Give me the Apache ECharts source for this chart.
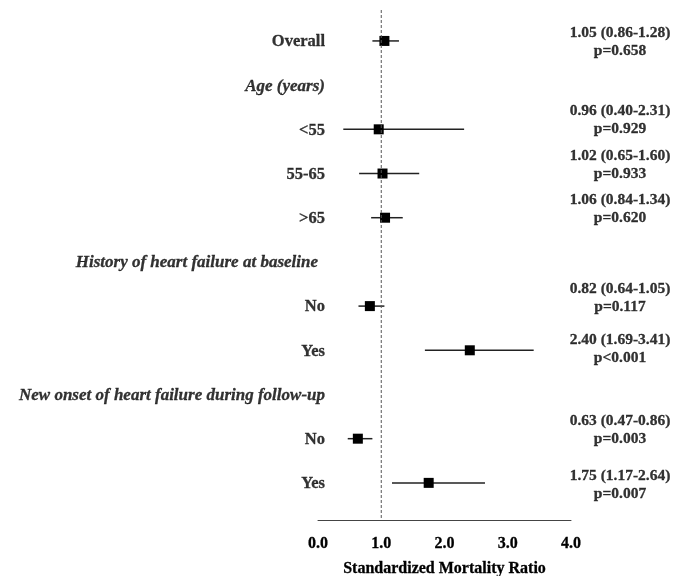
<!DOCTYPE html>
<html><head><meta charset="utf-8">
<script src="https://cdn.jsdelivr.net/npm/echarts@6/dist/echarts.min.js"></script>
<style>html,body{margin:0;padding:0;background:#fff}#c{width:678px;height:576px}</style>
</head><body><div id="c"></div>
<script>
// Data
var rowLabels = ['Overall','Age (years)','<55','55-65','>65','History of heart failure at baseline','No','Yes','New onset of heart failure during follow-up','No','Yes'];
var isHeader = [false,true,false,false,false,true,false,false,true,false,false];
var estimate = [1.05,null,0.96,1.02,1.06,null,0.82,2.40,null,0.63,1.75];
var lower    = [0.86,null,0.40,0.65,0.84,null,0.64,1.69,null,0.47,1.17];
var upper    = [1.28,null,2.31,1.60,1.34,null,1.05,3.41,null,0.86,2.64];
var pText    = ['p=0.658',null,'p=0.929','p=0.933','p=0.620',null,'p=0.117','p<0.001',null,'p=0.003','p=0.007'];
var xTicks = [0,1,2,3,4];
// style: vertical shift of right-hand text per row (px)
var textDy = [1.5,0,-9,-8.5,-8.5,0,-8.5,-1.5,0,-8.5,2];
var labelDx = [7,7,7,7,7,0,7,7,7,7,7];

var FONT = '"Liberation Serif", serif';
var chart = echarts.init(document.getElementById('c'), null, {renderer:'canvas'});

var ciData = [], labelData = [], rightData = [];
rowLabels.forEach(function(l, i){
  labelData.push({value:[0,i], label:{formatter:l, position:[labelDx[i],1],
    fontStyle: isHeader[i]?'italic':'normal', fontSize: isHeader[i]?17:16.5}});
  if (estimate[i] != null) {
    ciData.push([estimate[i], lower[i], upper[i], i]);
    var txt = estimate[i].toFixed(2)+' ('+lower[i].toFixed(2)+'-'+upper[i].toFixed(2)+')\n'+pText[i];
    rightData.push({value:[4,i], label:{formatter:txt, position:[49, textDy[i]]}});
  }
});

var option = {
  animation:false,
  backgroundColor:'#fff',
  grid:{left:318, right:107, top:10, bottom:56, containLabel:false, outerBoundsMode:'none'},
  xAxis:{type:'value', min:0, max:4, interval:1,
    axisLine:{show:true, onZero:false, lineStyle:{color:'#444', width:1}},
    axisTick:{show:false}, splitLine:{show:false},
    axisLabel:{margin:16, fontFamily:FONT, fontWeight:'bold', fontSize:16, color:'#000',
      textBorderColor:'#000', textBorderWidth:0.3,
      formatter:function(v){return v.toFixed(1);}},
    name:'Standardized Mortality Ratio', nameLocation:'middle', nameGap:41,
    nameTextStyle:{fontFamily:FONT, fontWeight:'bold', fontSize:16, color:'#000',
      textBorderColor:'#000', textBorderWidth:0.3}
  },
  yAxis:{type:'value', inverse:true, min:-0.7, max:10.84, show:false},
  series:[
    {type:'line', data:[[1,-0.7],[1,10.84]], symbol:'none',
      lineStyle:{color:'#555', width:1, type:[3,2]}, silent:true},
    {type:'custom', data:ciData,
      renderItem:function(params, api){
        var y = api.value(3);
        var pl = api.coord([api.value(1), y]);
        var ph = api.coord([api.value(2), y]);
        var pe = api.coord([api.value(0), y]);
        var s = 10;
        return {type:'group', children:[
          {type:'line', shape:{x1:pl[0], y1:pl[1], x2:ph[0], y2:ph[1]}, style:{stroke:'#222', lineWidth:1.5}},
          {type:'rect', shape:{x:pe[0]-s/2, y:pe[1]-s/2, width:s, height:s}, style:{fill:'#000'}}
        ]};
      }},
    {type:'scatter', data:labelData, symbolSize:0, silent:true,
      label:{show:true, align:'right', verticalAlign:'middle',
        fontFamily:FONT, fontWeight:'bold', color:'#000', textBorderColor:'#000', textBorderWidth:0.3}},
    {type:'scatter', data:rightData, symbolSize:0, silent:true,
      label:{show:true, align:'center', verticalAlign:'middle', lineHeight:18,
        fontFamily:FONT, fontWeight:'bold', fontSize:15.5, color:'#000', textBorderColor:'#000', textBorderWidth:0.3}}
  ]
};
chart.setOption(option);
</script></body></html>
